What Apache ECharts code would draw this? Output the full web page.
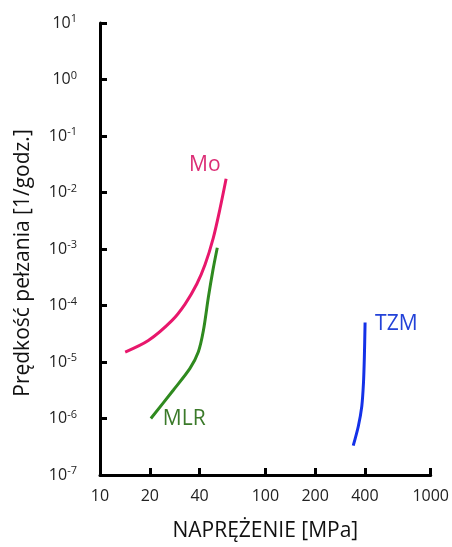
<!DOCTYPE html>
<html>
<head>
<meta charset="utf-8">
<script src="https://cdn.jsdelivr.net/npm/echarts@6/dist/echarts.min.js"></script>
<style>
  html, body { margin: 0; padding: 0; background: #fff; }
  #chart { width: 452px; height: 547px; }
</style>
</head>
<body>
<div id="chart"></div>
<script>
// Creep rate vs. stress for molybdenum alloys (log-log)
const xTickLabels = [10, 20, 40, 100, 200, 400, 1000];

const moStress = [14.2, 19.6, 27.2, 32.7, 38.5, 43.2, 48.4, 53.2, 57.9];
const moRate   = [1.5e-5, 2.4e-5, 5.4e-5, 1.06e-4, 2.4e-4, 5.3e-4, 1.56e-3, 5.2e-3, 1.75e-2];

// listed from the top end down so the name sits at the lower start
const mlrStress = [51.2, 48.1, 45.2, 42.2, 39.3, 35.0, 27.8, 20.3];
const mlrRate   = [1.05e-3, 4.1e-4, 1.38e-4, 3.6e-5, 1.5e-5, 7.7e-6, 3.2e-6, 1.0e-6];

const tzmStress = [340, 365, 383, 392, 397, 401];
const tzmRate   = [3.3e-7, 7.3e-7, 1.64e-6, 4.2e-6, 1.23e-5, 5.0e-5];

const FONT = '"Open Sans", "Noto Sans", sans-serif';
const lg = Math.log10;
const toPoints = (xs, ys) => xs.map((x, i) => [lg(x), lg(ys[i])]);

function curve(name, xs, ys, lineColor, textColor, distance, offset) {
  return {
    name: name,
    type: 'line',
    data: toPoints(xs, ys),
    smooth: 0.3,
    symbol: 'none',
    lineStyle: { color: lineColor, width: 3 },
    itemStyle: { color: lineColor },
    endLabel: {
      show: true,
      formatter: '{a}',
      color: textColor,
      fontFamily: FONT,
      fontSize: 21,
      distance: distance,
      offset: offset
    },
    z: 3
  };
}

const chart = echarts.init(document.getElementById('chart'), null, { renderer: 'canvas' });

chart.setOption({
  animation: false,
  backgroundColor: '#fff',
  grid: { left: 100, right: 21, top: 23, bottom: 68, containLabel: false },
  xAxis: {
    type: 'value',
    min: 1,
    max: 3,
    name: 'NAPRĘŻENIE [MPa]',
    nameLocation: 'middle',
    nameGap: 46,
    nameTextStyle: { fontFamily: FONT, fontSize: 21, color: '#111' },
    axisLine: { show: true, onZero: false, lineStyle: { color: '#000', width: 3 } },
    axisTick: {
      show: true, inside: true, length: 7,
      lineStyle: { color: '#000', width: 3 },
      customValues: xTickLabels.map(lg)
    },
    axisLabel: {
      customValues: xTickLabels.map(lg),
      formatter: v => String(Math.round(Math.pow(10, v))),
      fontFamily: FONT, fontSize: 16, color: '#222', margin: 13
    },
    splitLine: { show: false }
  },
  yAxis: [
    {
      type: 'value',
      position: 'left',
      min: -7,
      max: 1,
      interval: 1,
      name: 'Prędkość pełzania [1/godz.]',
      nameLocation: 'middle',
      nameGap: 66,
      nameTextStyle: { fontFamily: FONT, fontSize: 21, color: '#111', padding: [0, 28, 0, 0] },
      axisLine: { show: true, onZero: false, lineStyle: { color: '#000', width: 3 } },
      axisTick: { show: true, inside: true, length: 7, lineStyle: { color: '#000', width: 3 } },
      axisLabel: {
        formatter: v => '{b|10}{s|' + (v < 0 ? '-' + (-v) : v) + '}',
        margin: 23,
        rich: {
          b: { fontFamily: FONT, fontSize: 16, color: '#222' },
          s: { fontFamily: FONT, fontSize: 11, color: '#222', padding: [0, 0, 8, 0] }
        }
      },
      splitLine: { show: false }
    },
    {
      // tick-only companion axis on the same scale: short inward ticks per decade
      type: 'value',
      position: 'left',
      offset: 0,
      min: -7,
      max: 1,
      interval: 1,
      axisLine: { show: false, onZero: false },
      axisTick: { show: true, inside: true, length: 7, lineStyle: { color: '#000', width: 3 } },
      axisLabel: { show: false },
      splitLine: { show: false }
    }
  ],
  series: [
    curve('Mo', moStress, moRate, '#E8176C', '#DC2E76', 0, [-37, -14]),
    curve('MLR', mlrStress, mlrRate, '#2F8A1F', '#3B7A2A', 12, [0, 1]),
    curve('TZM', tzmStress, tzmRate, '#1431E8', '#2342D8', 10, [0, 2])
  ]
});
</script>
</body>
</html>
